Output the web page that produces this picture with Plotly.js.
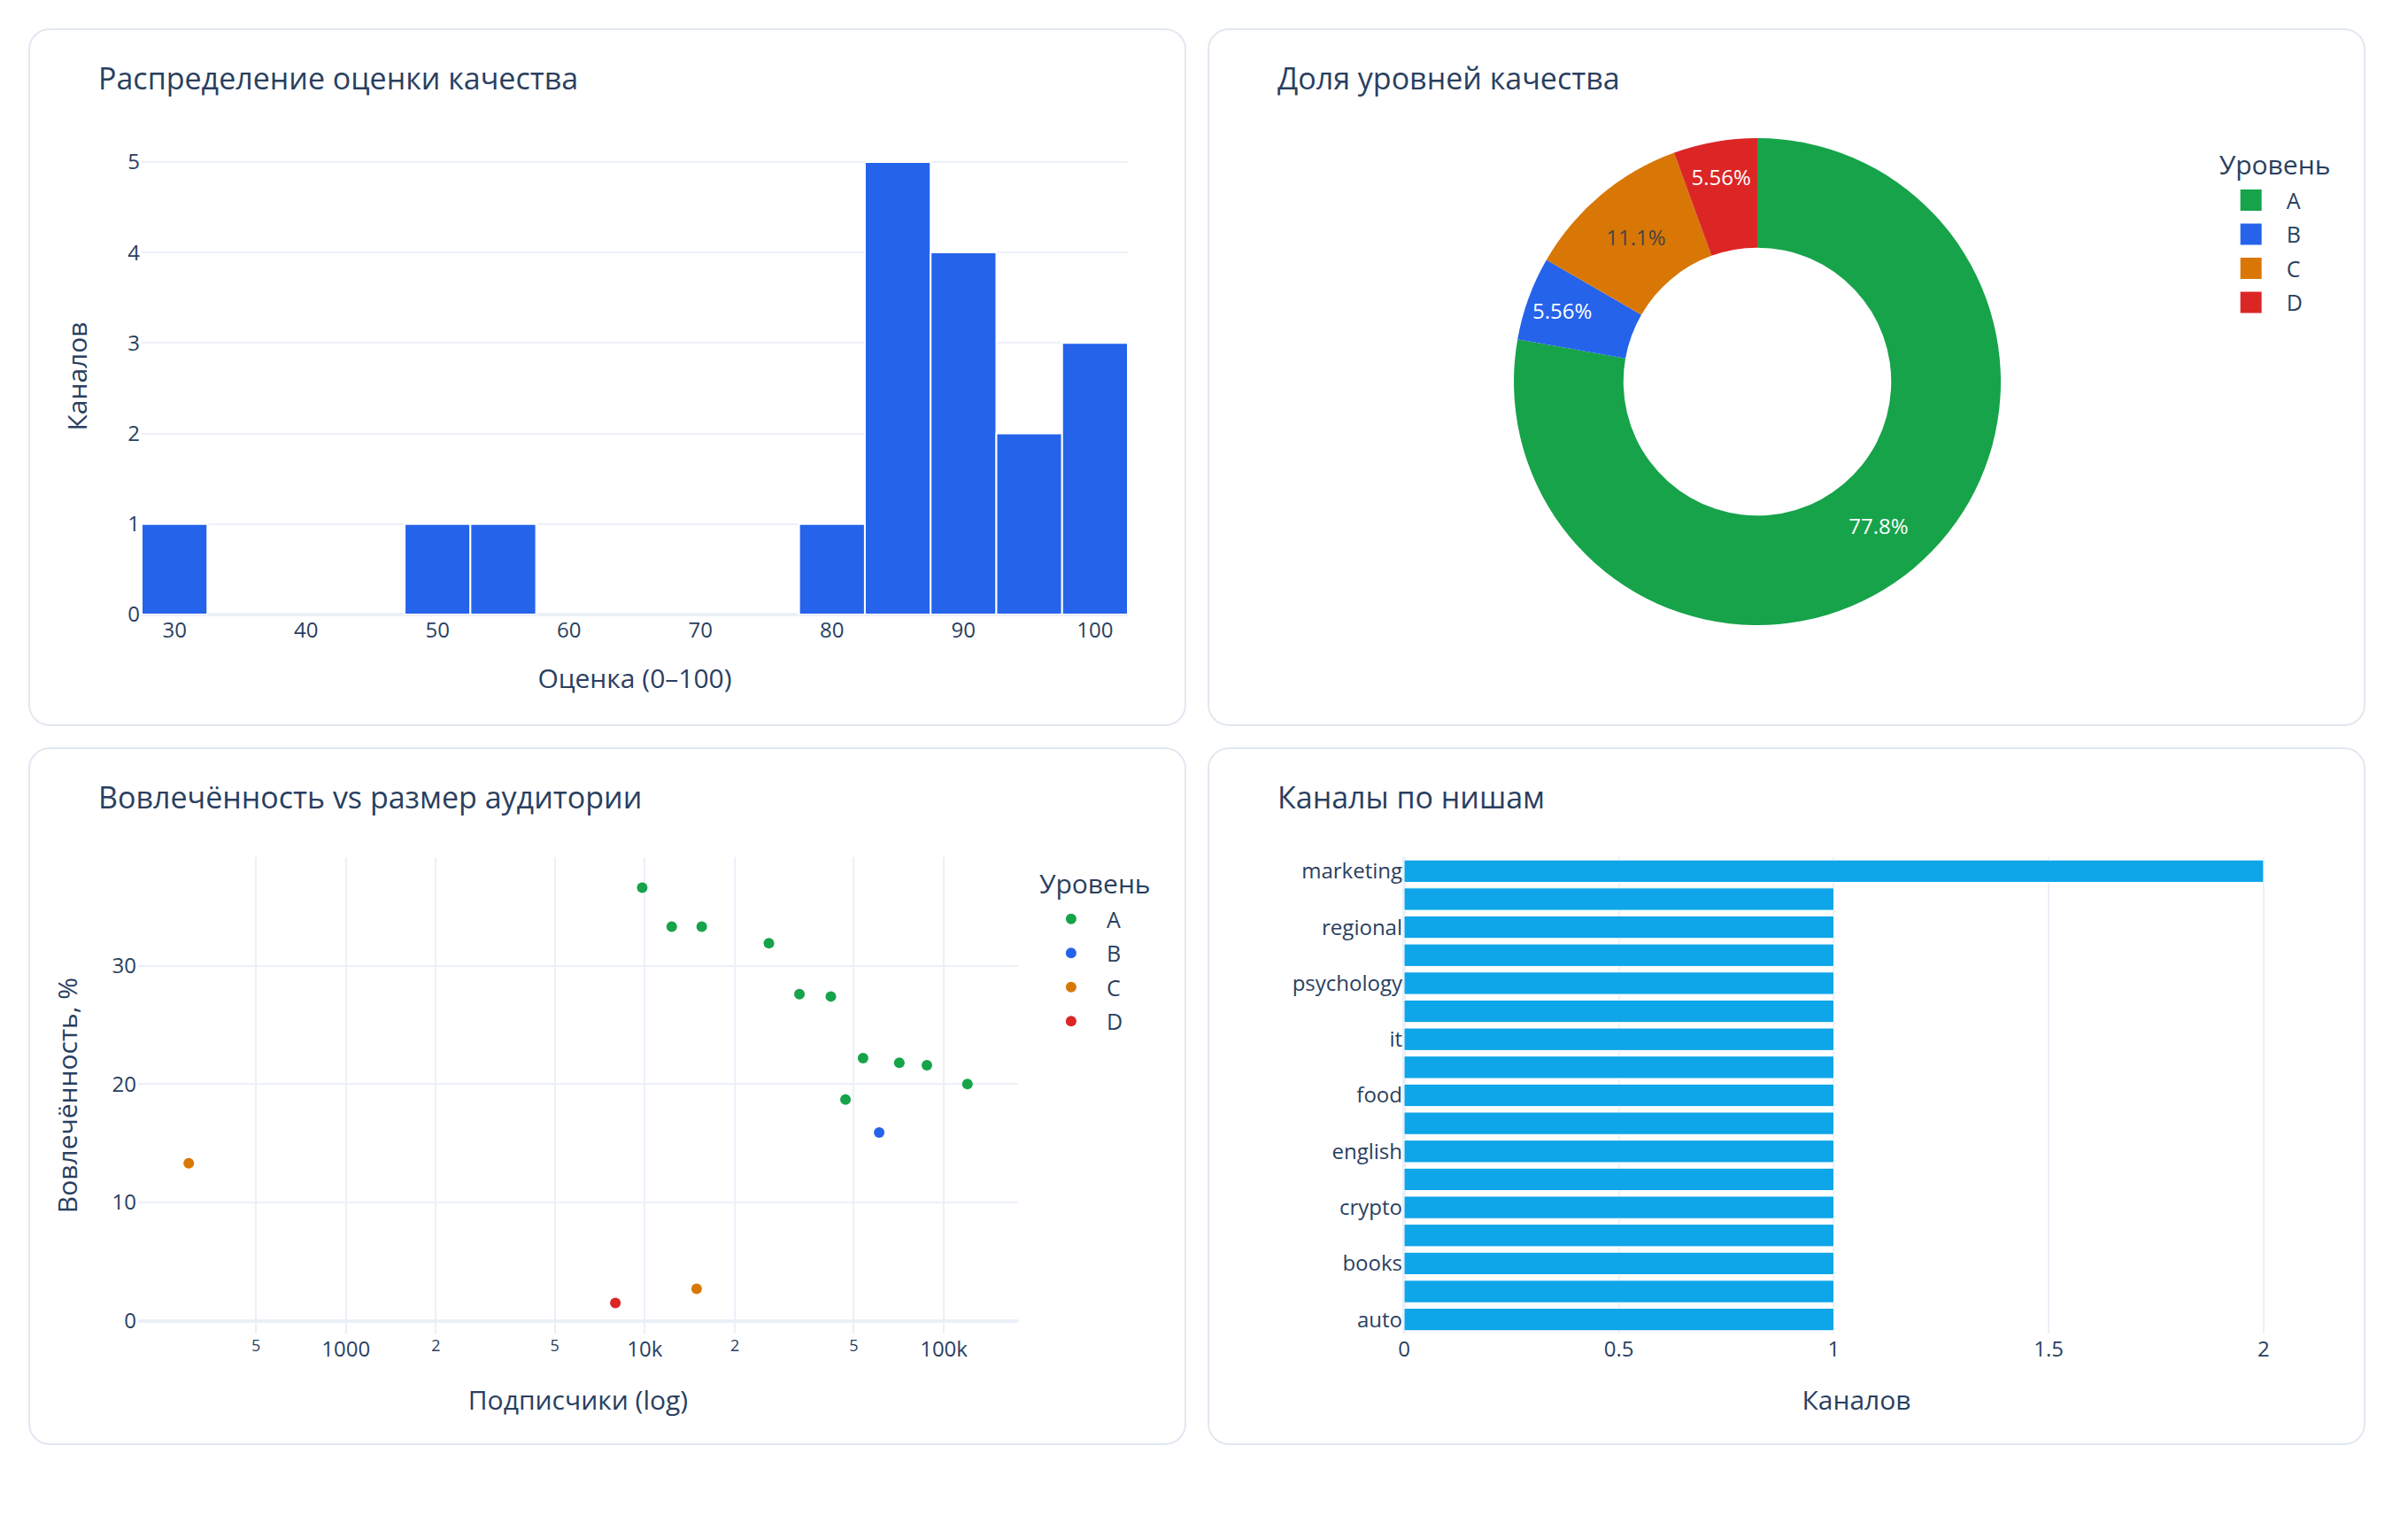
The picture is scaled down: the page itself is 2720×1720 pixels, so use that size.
<!DOCTYPE html>
<html>
<head>
<meta charset="utf-8">
<script src="https://cdn.plot.ly/plotly-3.0.1.min.js"></script>
<style>
  html, body { margin: 0; padding: 0; background: #ffffff; }
  body { width: 2720px; height: 1720px; position: relative; overflow: hidden; }
  #page { position: absolute; left: 0; top: 0; width: 1360px; height: 860px; transform-origin: 0 0; }
  .card { position: absolute; box-sizing: border-box; border: 1px solid #e2e8f0; border-radius: 12px; background: #fff; }
  .plot { position: absolute; left: 0; top: 0; }
</style>
</head>
<body>
<div id="page">
  <div class="card" style="left:16px; top:16px; width:653.5px; height:394px;"><div id="hist" class="plot"></div></div>
  <div class="card" style="left:682px; top:16px; width:654px; height:394px;"><div id="pie" class="plot"></div></div>
  <div class="card" style="left:16px; top:422px; width:653.5px; height:394px;"><div id="scatter" class="plot"></div></div>
  <div class="card" style="left:682px; top:422px; width:654px; height:394px;"><div id="bars" class="plot"></div></div>
</div>
<script>
// ---- data ----
const qualityScores = [31, 49, 56, 81, 84, 85, 86, 86, 87, 88, 89, 90, 91, 94, 96, 98, 99, 100];

const levels = ["A", "B", "C", "D"];
const levelCounts = [14, 1, 2, 1];
const levelColors = ["#16a34a", "#2563eb", "#d97706", "#dc2626"];

const subsA = [9800, 12300, 15500, 26000, 32900, 41900, 46900, 53700, 71000, 87800, 120000];
const engA  = [36.6, 33.3, 33.3, 31.9, 27.6, 27.4, 18.7, 22.2, 21.8, 21.6, 20.0];
const subsB = [60800];
const engB  = [15.9];
const subsC = [298, 14900];
const engC  = [13.3, 2.7];
const subsD = [7970];
const engD  = [1.5];

const niches = ["auto", "beauty", "books", "business", "crypto", "design", "english", "fashion",
                "food", "health", "it", "news", "psychology", "realty", "regional", "travel", "marketing"];
const nicheCounts = [1, 1, 1, 1, 1, 1, 1, 1, 1, 1, 1, 1, 1, 1, 1, 1, 2];

// ---- common style (page is laid out at 1360x860 and scaled 2x) ----
const FONT = {family: '"Open Sans", verdana, arial, sans-serif', size: 12, color: "#2a3f5f"};
const GRID = "#EBF0F8";
const H = 392;
function title(t, w) {
  return {text: t, x: 38.5 / w, xref: "container", xanchor: "left",
          y: 1 - 27.5 / H, yref: "container", yanchor: "middle", font: {size: 17}};
}
function ax(t, standoff, extra) {
  return Object.assign({
    title: {text: t, standoff: standoff, font: {size: 15}},
    gridcolor: GRID, gridwidth: 1, zerolinecolor: GRID, zerolinewidth: 2,
    showline: false, ticks: "", automargin: true
  }, extra);
}
function legend(x) {
  return {title: {text: "Уровень"}, font: {size: 12.5}, x: x, xanchor: "left", y: 0.997, yanchor: "top"};
}
const cfg = {displayModeBar: false, staticPlot: true};
const plots = [];

// ---- histogram ----
plots.push(Plotly.newPlot("hist", [{
  type: "histogram", x: qualityScores,
  xbins: {start: 27.5, end: 102.5, size: 5},
  marker: {color: "#2563eb", line: {color: "#ffffff", width: 1}},
  showlegend: false
}], {
  width: 651.5, height: H, font: FONT, paper_bgcolor: "rgba(0,0,0,0)", plot_bgcolor: "#fff",
  title: title("Распределение оценки качества", 651.5),
  margin: {l: 62.5, r: 32, t: 61, b: 62},
  bargap: 0,
  xaxis: ax("Оценка (0–100)", 14.5, {showgrid: false}),
  yaxis: ax("Каналов", 18.5, {})
}, cfg));

// ---- donut ----
plots.push(Plotly.newPlot("pie", [{
  type: "pie", labels: levels, values: levelCounts, hole: 0.55,
  sort: false, direction: "clockwise",
  marker: {colors: levelColors},
  textinfo: "percent", textposition: "inside"
}], {
  width: 652, height: H, font: FONT, paper_bgcolor: "rgba(0,0,0,0)",
  title: title("Доля уровней качества", 652),
  margin: {l: 62.5, r: 95.5, t: 61, b: 56},
  legend: legend(1.025)
}, cfg));

// ---- scatter ----
const scTraces = [[subsA, engA], [subsB, engB], [subsC, engC], [subsD, engD]].map((d, i) => ({
  type: "scatter", mode: "markers", x: d[0], y: d[1], name: levels[i],
  marker: {color: levelColors[i], size: 6}
}));
plots.push(Plotly.newPlot("scatter", scTraces, {
  width: 651.5, height: H, font: FONT, paper_bgcolor: "rgba(0,0,0,0)", plot_bgcolor: "#fff",
  title: title("Вовлечённость vs размер аудитории", 651.5),
  margin: {l: 61, r: 93.5, t: 61, b: 62},
  xaxis: ax("Подписчики (log)", 16.2, {type: "log"}),
  yaxis: ax("Вовлечённость, %", 15, {}),
  legend: legend(1.02)
}, cfg));

// ---- horizontal bars ----
plots.push(Plotly.newPlot("bars", [{
  type: "bar", orientation: "h", x: nicheCounts, y: niches,
  marker: {color: "#0ea5e9", line: {color: "#ffffff", width: 0.5}},
  showlegend: false
}], {
  width: 652, height: H, font: FONT, paper_bgcolor: "rgba(0,0,0,0)", plot_bgcolor: "#fff",
  title: title("Каналы по нишам", 652),
  margin: {l: 110, r: 31, t: 61, b: 62},
  xaxis: ax("Каналов", 16.2, {}),
  yaxis: {type: "category", categoryorder: "array", categoryarray: niches, showgrid: false,
          tickmode: "linear", tick0: 0, dtick: 2, ticks: "", automargin: true,
          zerolinecolor: GRID, showline: false}
}, cfg));

Promise.all(plots).then(() => {
  document.getElementById("page").style.transform = "scale(2)";
});
</script>
</body>
</html>
